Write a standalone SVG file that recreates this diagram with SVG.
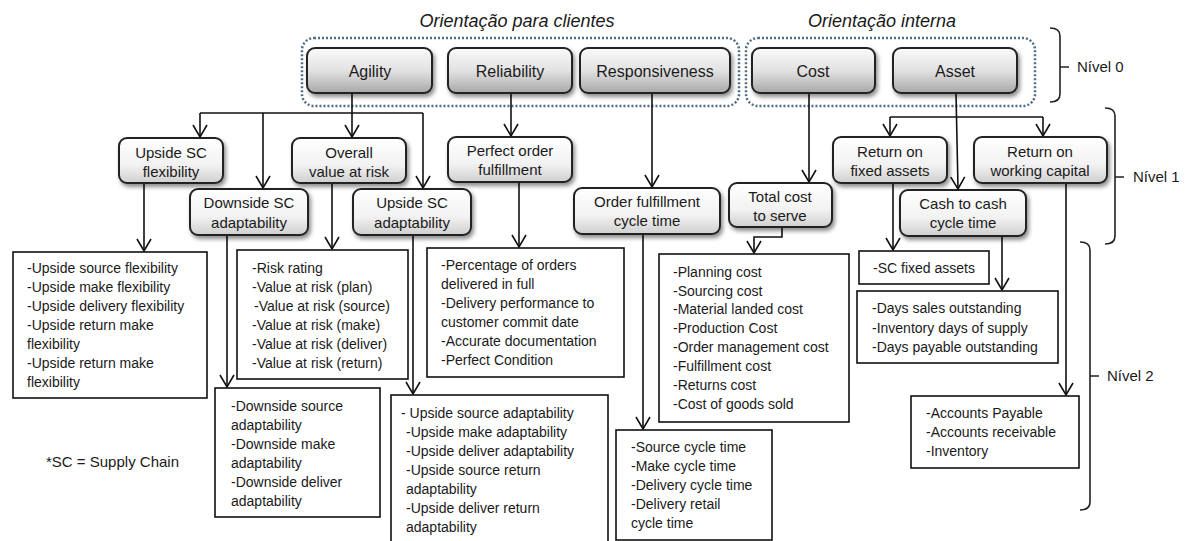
<svg xmlns="http://www.w3.org/2000/svg" width="1193" height="541" viewBox="0 0 1193 541">
<defs>
<linearGradient id="g0" x1="0" y1="0" x2="0" y2="1">
<stop offset="0" stop-color="#fafafa"/><stop offset="0.5" stop-color="#e2e2e2"/><stop offset="1" stop-color="#a8a8a8"/>
</linearGradient>
<linearGradient id="g1" x1="0" y1="0" x2="0" y2="1">
<stop offset="0" stop-color="#ffffff"/><stop offset="0.6" stop-color="#f2f2f2"/><stop offset="1" stop-color="#cfcfcf"/>
</linearGradient>
<filter id="sh" x="-10%" y="-20%" width="130%" height="150%">
<feDropShadow dx="2" dy="3" stdDeviation="2" flood-color="#000" flood-opacity="0.45"/>
</filter>
<marker id="ar" markerUnits="userSpaceOnUse" markerWidth="16" markerHeight="16" viewBox="0 0 16 16" refX="14" refY="8" orient="auto">
<path d="M2,1 L14,8 L2,15" fill="none" stroke="#111" stroke-width="1.6"/>
</marker>
</defs>
<style>
text{font-family:"Liberation Sans",Arial,sans-serif;fill:#1a1a1a}
.l0 rect{fill:url(#g0);stroke:#222;stroke-width:2;filter:url(#sh)}
.l0 text{font-size:16px;text-anchor:middle}
.l1 rect{fill:url(#g1);stroke:#222;stroke-width:2;filter:url(#sh)}
.l1 text{font-size:15px;text-anchor:middle}
.l2 rect{fill:#fff;stroke:#111;stroke-width:1.6}
.l2 text{font-size:14px}
.grp{fill:none;stroke:#4f6b86;stroke-width:2.5;stroke-dasharray:2 2}
.title{font-size:18px;font-style:italic;text-anchor:middle}
.cn path,.cn line,.cn polyline{fill:none;stroke:#111;stroke-width:1.6}
.br{fill:none;stroke:#222;stroke-width:1.6}
.lvl{font-size:15px}
</style>

<text class="title" x="517" y="27">Orientação para clientes</text>
<text class="title" x="882" y="27">Orientação interna</text>
<rect class="grp" x="302" y="38" width="437" height="68" rx="12"/>
<rect class="grp" x="746" y="38" width="289" height="68" rx="12"/>

<g class="cn">
<line x1="352" y1="93" x2="352" y2="113"/>
<line x1="200" y1="113" x2="423" y2="113"/>
<line x1="200" y1="113" x2="200" y2="137" marker-end="url(#ar)"/>
<line x1="263" y1="113" x2="263" y2="188" marker-end="url(#ar)"/>
<line x1="352" y1="113" x2="352" y2="137" marker-end="url(#ar)"/>
<line x1="423" y1="113" x2="423" y2="188" marker-end="url(#ar)"/>
<line x1="511" y1="93" x2="511" y2="136" marker-end="url(#ar)"/>
<line x1="652" y1="93" x2="652" y2="187" marker-end="url(#ar)"/>
<line x1="809" y1="93" x2="809" y2="182" marker-end="url(#ar)"/>
<line x1="956" y1="93" x2="958" y2="189" marker-end="url(#ar)"/>
<line x1="890" y1="117" x2="1043" y2="117"/>
<line x1="890" y1="117" x2="890" y2="136" marker-end="url(#ar)"/>
<line x1="1043" y1="117" x2="1043" y2="136" marker-end="url(#ar)"/>
<line x1="144" y1="183" x2="144" y2="251" marker-end="url(#ar)"/>
<line x1="332" y1="183" x2="332" y2="249" marker-end="url(#ar)"/>
<line x1="227" y1="235" x2="227" y2="387" marker-end="url(#ar)"/>
<line x1="413" y1="235" x2="413" y2="394" marker-end="url(#ar)"/>
<line x1="519" y1="182" x2="519" y2="247" marker-end="url(#ar)"/>
<line x1="643" y1="234" x2="643" y2="429" marker-end="url(#ar)"/>
<polyline points="782,227 782,237 754,237 754,253" marker-end="url(#ar)"/>
<line x1="893" y1="183" x2="893" y2="250" marker-end="url(#ar)"/>
<line x1="1002" y1="236" x2="1002" y2="290" marker-end="url(#ar)"/>
<line x1="1066" y1="183" x2="1066" y2="395" marker-end="url(#ar)"/>
</g>

<g id="agility" class="l0"><rect x="307" y="48" width="125" height="45" rx="8"/><text x="370" y="77">Agility</text></g>
<g id="reliability" class="l0"><rect x="448" y="48" width="124" height="45" rx="8"/><text x="510" y="77">Reliability</text></g>
<g id="responsiveness" class="l0"><rect x="580" y="48" width="150" height="45" rx="8"/><text x="655" y="77">Responsiveness</text></g>
<g id="cost" class="l0"><rect x="752" y="48" width="123" height="45" rx="8"/><text x="813" y="77">Cost</text></g>
<g id="asset" class="l0"><rect x="893" y="48" width="124" height="45" rx="8"/><text x="955" y="77">Asset</text></g>

<g id="upside-flex" class="l1"><rect x="119" y="138" width="104" height="45" rx="8"/><text x="171" y="158">Upside SC</text><text x="171" y="177">flexibility</text></g>
<g id="overall-var" class="l1"><rect x="292" y="138" width="114" height="45" rx="8"/><text x="349" y="158">Overall</text><text x="349" y="177">value at risk</text></g>
<g id="downside-adapt" class="l1"><rect x="190" y="189" width="118" height="46" rx="8"/><text x="249" y="208">Downside SC</text><text x="249" y="228">adaptability</text></g>
<g id="upside-adapt" class="l1"><rect x="353" y="189" width="118" height="46" rx="8"/><text x="412" y="208">Upside SC</text><text x="412" y="228">adaptability</text></g>
<g id="perfect-order" class="l1"><rect x="448" y="137" width="124" height="45" rx="8"/><text x="510" y="156">Perfect order</text><text x="510" y="175">fulfillment</text></g>
<g id="order-cycle" class="l1"><rect x="574" y="188" width="146" height="46" rx="8"/><text x="647" y="207">Order fulfillment</text><text x="647" y="226">cycle time</text></g>
<g id="total-cost" class="l1"><rect x="729" y="183" width="103" height="44" rx="8"/><text x="780" y="202">Total cost</text><text x="780" y="221">to serve</text></g>
<g id="return-fixed" class="l1"><rect x="833" y="137" width="114" height="46" rx="8"/><text x="890" y="157">Return on</text><text x="890" y="176">fixed assets</text></g>
<g id="return-wc" class="l1"><rect x="974" y="137" width="133" height="46" rx="8"/><text x="1040" y="157">Return on</text><text x="1040" y="176">working capital</text></g>
<g id="cash-cycle" class="l1"><rect x="900" y="190" width="126" height="46" rx="8"/><text x="963" y="209">Cash to cash</text><text x="963" y="228">cycle time</text></g>

<g id="list-upside-flex" class="l2"><rect x="13" y="252" width="194" height="146"/>
<text x="27" y="273">-Upside source flexibility</text><text x="27" y="292">-Upside make flexibility</text><text x="27" y="311">-Upside delivery flexibility</text><text x="27" y="330">-Upside return make</text><text x="27" y="349">flexibility</text><text x="27" y="368">-Upside return make</text><text x="27" y="387">flexibility</text></g>
<g id="list-risk" class="l2"><rect x="237" y="250" width="171" height="129"/>
<text x="252" y="273">-Risk rating</text><text x="252" y="292">-Value at risk (plan)</text><text x="254" y="311">-Value at risk (source)</text><text x="252" y="330">-Value at risk (make)</text><text x="252" y="349">-Value at risk (deliver)</text><text x="252" y="368">-Value at risk (return)</text></g>
<g id="list-downside" class="l2"><rect x="215" y="388" width="165" height="129"/>
<text x="231" y="411">-Downside source</text><text x="231" y="430">adaptability</text><text x="231" y="449">-Downside make</text><text x="231" y="468">adaptability</text><text x="231" y="487">-Downside deliver</text><text x="231" y="506">adaptability</text></g>
<g id="list-upside-adapt" class="l2"><rect x="391" y="395" width="217" height="152"/>
<text x="401" y="418">- Upside source adaptability</text><text x="406" y="437">-Upside make adaptability</text><text x="406" y="456">-Upside deliver adaptability</text><text x="406" y="475">-Upside source return</text><text x="406" y="494">adaptability</text><text x="406" y="513">-Upside deliver return</text><text x="406" y="532">adaptability</text></g>
<g id="list-perfect" class="l2"><rect x="427" y="248" width="197" height="129"/>
<text x="441" y="270">-Percentage of orders</text><text x="441" y="289">delivered in full</text><text x="441" y="308">-Delivery performance to</text><text x="441" y="327">customer commit date</text><text x="441" y="346">-Accurate documentation</text><text x="441" y="365">-Perfect Condition</text></g>
<g id="list-cycle" class="l2"><rect x="616" y="430" width="156" height="110"/>
<text x="631" y="452">-Source cycle time</text><text x="631" y="471">-Make cycle time</text><text x="631" y="490">-Delivery cycle time</text><text x="631" y="509">-Delivery retail</text><text x="631" y="528">cycle time</text></g>
<g id="list-cost" class="l2"><rect x="659" y="254" width="190" height="168"/>
<text x="673" y="277">-Planning cost</text><text x="673" y="296">-Sourcing cost</text><text x="673" y="314">-Material landed cost</text><text x="673" y="333">-Production Cost</text><text x="673" y="352">-Order management cost</text><text x="673" y="371">-Fulfillment cost</text><text x="673" y="390">-Returns cost</text><text x="673" y="409">-Cost of goods sold</text></g>
<g id="list-fixed" class="l2"><rect x="859" y="251" width="130" height="33"/>
<text x="873" y="273">-SC fixed assets</text></g>
<g id="list-days" class="l2"><rect x="857" y="291" width="201" height="72"/>
<text x="872" y="313">-Days sales outstanding</text><text x="872" y="333">-Inventory days of supply</text><text x="872" y="352">-Days payable outstanding</text></g>
<g id="list-accounts" class="l2"><rect x="911" y="396" width="168" height="72"/>
<text x="926" y="418">-Accounts Payable</text><text x="926" y="437">-Accounts receivable</text><text x="926" y="456">-Inventory</text></g>

<g id="brackets">
<path class="br" d="M1050,28 Q1060,28 1060,36 L1060,94 Q1060,102 1050,102 M1060,67 L1069,67"/>
<text class="lvl" x="1077" y="72">Nível 0</text>
<path class="br" d="M1105,108 Q1115,108 1115,116 L1115,236 Q1115,244 1105,244 M1115,177 L1124,177"/>
<text class="lvl" x="1133" y="182">Nível 1</text>
<path class="br" d="M1080,242 Q1090,242 1090,250 L1090,502 Q1090,510 1080,510 M1090,376 L1099,376"/>
<text class="lvl" x="1107" y="381">Nível 2</text>
</g>

<text x="46" y="467" style="font-size:15px">*SC = Supply Chain</text>
</svg>
